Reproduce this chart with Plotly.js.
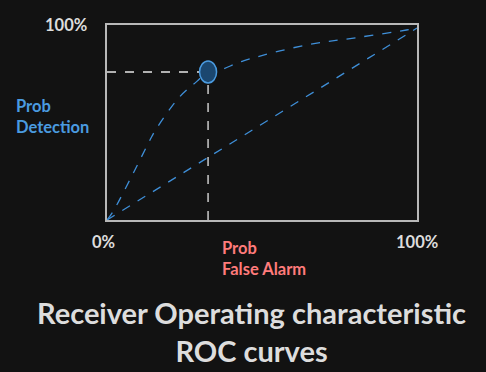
<!DOCTYPE html>
<html>
<head>
<meta charset="utf-8">
<script src="https://cdn.plot.ly/plotly-3.0.1.min.js"></script>
<style>html,body{margin:0;padding:0;background:#121212;}</style>
</head>
<body>
<div id="chart" style="width:486px;height:372px;"></div>
<script>
// ROC curve
const rocX = [0, 0.02, 0.085, 0.139, 0.157, 0.235, 0.289, 0.326, 0.365, 0.44, 0.644, 0.805, 0.966, 1];
const rocY = [0, 0.046, 0.245, 0.418, 0.47, 0.643, 0.721, 0.771, 0.782, 0.829, 0.912, 0.95, 0.99, 1];
// chance diagonal
const diagX = [0, 1];
const diagY = [0, 1];
// operating point
const opX = [0.326];
const opY = [0.771];

const font = "Lato, 'Open Sans', sans-serif";

const traces = [
  {x: rocX, y: rocY, mode: 'lines', line: {color: '#3f8fd8', width: 1.3, dash: 'dash', shape: 'spline'}, hoverinfo: 'skip'},
  {x: diagX, y: diagY, mode: 'lines', line: {color: '#3f8fd8', width: 1.3, dash: 'dash'}, hoverinfo: 'skip'},
  {x: [0, opX[0]], y: [opY[0], opY[0]], mode: 'lines', line: {color: '#e6e6e6', width: 1.3, dash: 'dash'}, hoverinfo: 'skip'},
  {x: [opX[0], opX[0]], y: [0, opY[0]], mode: 'lines', line: {color: '#e6e6e6', width: 1.3, dash: 'dash'}, hoverinfo: 'skip'}
];

const layout = {
  width: 486, height: 372,
  paper_bgcolor: '#121212', plot_bgcolor: '#121212',
  margin: {l: 107, r: 69, t: 25, b: 152},
  showlegend: false,
  font: {family: font, color: '#dddddd'},
  xaxis: {range: [0, 1], showgrid: false, zeroline: false, showticklabels: false, ticks: '',
          showline: true, mirror: true, linecolor: '#b8b8b8', linewidth: 2, fixedrange: true},
  yaxis: {range: [0, 1.016], showgrid: false, zeroline: false, showticklabels: false, ticks: '',
          showline: true, mirror: true, linecolor: '#b8b8b8', linewidth: 2, fixedrange: true},
  shapes: [{
    type: 'circle', xref: 'x', yref: 'y', xsizemode: 'pixel', ysizemode: 'pixel',
    xanchor: opX[0], yanchor: opY[0], x0: -8.5, x1: 8.5, y0: -11, y1: 11,
    fillcolor: '#1b476f', line: {color: '#4a9be0', width: 1.5}
  }],
  annotations: [
    {xref: 'paper', yref: 'paper', x: 0, y: 1, xshift: -18, xanchor: 'right', yanchor: 'middle',
     text: '<b>100%</b>', showarrow: false, font: {size: 16.5, weight: 900, color: '#dddddd', family: font}},
    {xref: 'paper', yref: 'paper', x: 0, y: 0, xshift: -4, yshift: -22, xanchor: 'center', yanchor: 'middle',
     text: '<b>0%</b>', showarrow: false, font: {size: 16.5, weight: 900, color: '#dddddd', family: font}},
    {xref: 'paper', yref: 'paper', x: 1, y: 0, yshift: -22, xanchor: 'center', yanchor: 'middle',
     text: '<b>100%</b>', showarrow: false, font: {size: 16.5, weight: 900, color: '#dddddd', family: font}},
    {xref: 'paper', yref: 'paper', x: 0, y: 0.5, xshift: -93, yshift: 6, xanchor: 'left', yanchor: 'middle', align: 'left',
     text: '<b>Prob<br>Detection</b>', showarrow: false, font: {size: 16.5, weight: 900, color: '#4a9be0', family: font}},
    {xref: 'paper', yref: 'paper', x: 0.371, y: 0, xshift: -2, yshift: -38, xanchor: 'left', yanchor: 'middle', align: 'left',
     text: '<b>Prob<br>False Alarm</b>', showarrow: false, font: {size: 16.5, weight: 900, color: '#ff7b7b', family: font}},
    {xref: 'paper', yref: 'paper', x: 0.5, y: 0, xshift: -11, yshift: -111, xanchor: 'center', yanchor: 'middle', align: 'center',
     text: '<b>Receiver Operating characteristic<br>ROC curves</b>', showarrow: false, font: {size: 29, weight: 900, color: '#dddddd', family: font}}
  ]
};

Plotly.newPlot('chart', traces, layout, {displayModeBar: false, staticPlot: true});
</script>
</body>
</html>
